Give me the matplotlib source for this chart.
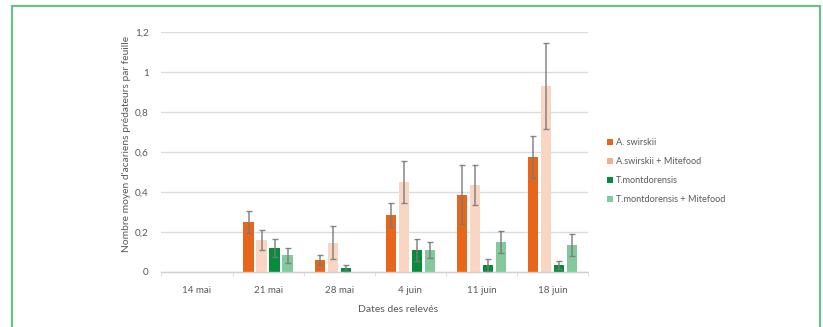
import numpy as np
import matplotlib.pyplot as plt
from matplotlib.patches import Patch, Rectangle

plt.rcParams['font.family'] = ['Lato', 'DejaVu Sans']

# data
dates = ["14 mai", "21 mai", "28 mai", "4 juin", "11 juin", "18 juin"]
series_names = ["A. swirskii", "A.swirskii + Mitefood", "T.montdorensis", "T.montdorensis + Mitefood"]

swirskii = [0, 0.25, 0.06, 0.286, 0.387, 0.575]
swirskii_err = [0, 0.055, 0.027, 0.06, 0.147, 0.107]
swirskii_mf = [0, 0.16, 0.147, 0.45, 0.437, 0.93]
swirskii_mf_err = [0, 0.05, 0.082, 0.105, 0.1, 0.215]
montdo = [0, 0.122, 0.02, 0.11, 0.035, 0.035]
montdo_err = [0, 0.045, 0.017, 0.053, 0.03, 0.022]
montdo_mf = [0, 0.083, 0, 0.112, 0.148, 0.135]
montdo_mf_err = [0, 0.038, 0, 0.04, 0.055, 0.053]

values = [swirskii, swirskii_mf, montdo, montdo_mf]
errors = [swirskii_err, swirskii_mf_err, montdo_err, montdo_mf_err]
bar_colors = ['#E8661C', '#F9D6C3', '#078C3C', '#84C89E']
legend_colors = ['#E8661C', '#F2B08E', '#078C3C', '#84C89E']

text_col = '#595959'

fig = plt.figure(figsize=(8.23, 3.27), dpi=100)
ax = fig.add_axes([0.1962, 0.1682, 0.5183, 0.7339])

x = np.arange(len(dates))
step = 0.183
width = 0.145
for i, (vals, errs) in enumerate(zip(values, errors)):
    pos = x + (i - 1.5) * step
    v = np.array(vals)
    e = np.array(errs)
    mask = v > 0
    ax.bar(pos[mask], v[mask], width=width, color=bar_colors[i], zorder=2)
    ax.errorbar(pos[mask], v[mask], yerr=e[mask], fmt='none', ecolor='#7A7A7A',
                elinewidth=1.1, capsize=2.5, capthick=1.0, alpha=0.9, zorder=3)

ax.set_xlim(-0.5, len(dates) - 0.5)
ax.set_ylim(0, 1.2)
ax.set_yticks(np.arange(0, 1.21, 0.2))
ax.set_yticklabels(['0', '0,2', '0,4', '0,6', '0,8', '1', '1,2'])
ax.set_xticks(x)
ax.set_xticklabels(dates)
ax.set_xticks(np.arange(-0.5, len(dates)), minor=True)
ax.tick_params(axis='x', which='major', length=0, pad=10, labelsize=7, colors=text_col)
ax.tick_params(axis='x', which='minor', length=3, color='#D9D9D9', direction='out')
ax.tick_params(axis='y', length=0, pad=9, labelsize=7.2, colors=text_col)

ax.grid(axis='y', color='#DCDCDC', linewidth=1, zorder=0)
ax.set_axisbelow(True)
for side in ['top', 'right', 'left']:
    ax.spines[side].set_visible(False)
ax.spines['bottom'].set_color('#D0D0D0')
ax.spines['bottom'].set_linewidth(1)

ax.set_ylabel("Nombre moyen d'acariens prédateurs par feuille", fontsize=7.4,
              color=text_col, va='center')
ax.yaxis.set_label_coords(-0.082, 0.533)
ax.text(0.5545, -0.158, "Dates des relevés", transform=ax.transAxes, fontsize=7.5,
        color=text_col, ha='center', va='center')

handles = [Patch(facecolor=c, edgecolor='none') for c in legend_colors]
fig.legend(handles, series_names, loc='upper left', bbox_to_anchor=(0.727, 0.603),
           frameon=False, fontsize=6.6, labelcolor=text_col, handlelength=0.75,
           handleheight=0.75, handletextpad=0.25, labelspacing=1.1)

# green frame around the figure
fig.patches.append(Rectangle((12 / 823, -0.1), (820 - 12) / 823, 1.1 - 6 / 327,
                             transform=fig.transFigure, fill=False,
                             edgecolor='#6CC18B', linewidth=1.6, clip_on=False))

fig.savefig('out.png', dpi=100)
